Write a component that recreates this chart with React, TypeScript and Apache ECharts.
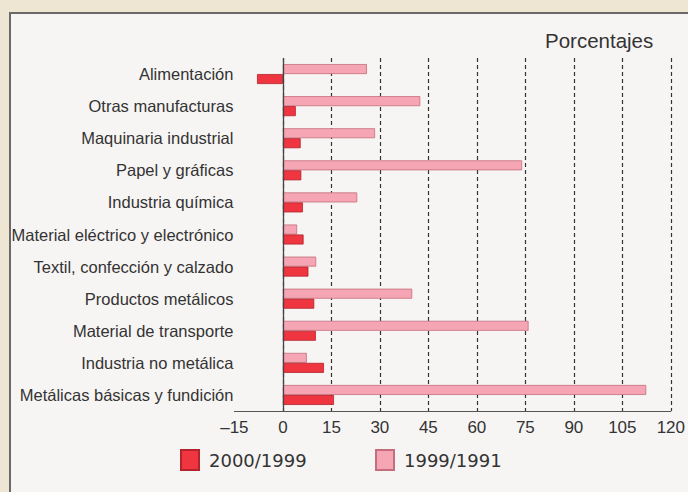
import React, { useEffect, useRef } from "react";
import * as echarts from "echarts";

const categories = [
  "Alimentación",
  "Otras manufacturas",
  "Maquinaria industrial",
  "Papel y gráficas",
  "Industria química",
  "Material eléctrico y electrónico",
  "Textil, confección y calzado",
  "Productos metálicos",
  "Material de transporte",
  "Industria no metálica",
  "Metálicas básicas y fundición",
];

const values1999_1991 = [26, 42.5, 28.5, 74, 23, 4.4, 10.3, 40, 76, 7.4, 112.4];
const values2000_1999 = [-8, 4, 5.5, 5.7, 6.2, 6.4, 7.9, 9.7, 10.2, 12.7, 15.8];

const seriesNames = ["2000/1999", "1999/1991"];
const titleText = "Porcentajes";

export default function App() {
  const ref = useRef<HTMLDivElement>(null);
  useEffect(() => {
    if (!ref.current) return;
    const chart = echarts.init(ref.current, null, { renderer: "svg" });
    const font = "'Liberation Sans', Arial, Helvetica, sans-serif";
    chart.setOption({
      animation: false,
      backgroundColor: "#eee5d2",
      textStyle: { fontFamily: font },
      graphic: [
        {
          type: "rect",
          z: -10,
          silent: true,
          shape: { x: 10, y: 13, width: 700, height: 500 },
          style: { fill: "#f7f5f4", stroke: "#6a6a6a", lineWidth: 2 },
        },
      ],
      title: {
        text: titleText,
        left: 545,
        top: 30,
        padding: 0,
        textStyle: { fontSize: 20.5, fontWeight: "normal", color: "#333", fontFamily: font },
      },
      legend: [
        {
          data: [seriesNames[0]],
          left: 180,
          top: 449,
          padding: 0,
          icon: "rect",
          itemWidth: 18,
          itemHeight: 20,
          itemGap: 10,
          textStyle: { fontSize: 18, color: "#333", fontFamily: "'DejaVu Sans', sans-serif", padding: [0, 0, 0, 5] },
        },
        {
          data: [seriesNames[1]],
          left: 375,
          top: 449,
          padding: 0,
          icon: "rect",
          itemWidth: 18,
          itemHeight: 20,
          textStyle: { fontSize: 18, color: "#333", fontFamily: "'DejaVu Sans', sans-serif", padding: [0, 0, 0, 5] },
        },
      ],
      grid: { left: 234.4, right: 16, top: 58, bottom: 81, containLabel: false },
      xAxis: {
        type: "value",
        min: -15,
        max: 120,
        interval: 15,
        axisLine: { show: true, lineStyle: { color: "#555", width: 1 } },
        axisTick: { show: false },
        axisLabel: {
          fontSize: 17,
          color: "#333",
          margin: 8,
          formatter: (v: number) => (v < 0 ? "–" + Math.abs(v) : String(v)),
        },
        splitLine: {
          show: true,
          showMinLine: false,
          lineStyle: { color: "#333", width: 1.2, type: [4, 3] },
        },
      },
      yAxis: {
        type: "category",
        inverse: true,
        data: categories,
        axisLine: { show: false },
        axisTick: { show: false },
        axisLabel: { fontSize: 16.5, color: "#333", margin: 1 },
      },
      series: [
        {
          name: seriesNames[1],
          type: "bar",
          data: values1999_1991,
          barWidth: 10,
          barGap: "0%",
          itemStyle: { color: "#f5a5b3", borderColor: "#c46d7c", borderWidth: 0.8 },
          markLine: {
            silent: true,
            symbol: ["none", "none"],
            label: { show: false },
            lineStyle: { color: "#444", type: "solid", width: 1.3 },
            data: [{ xAxis: 0 }],
          },
        },
        {
          name: seriesNames[0],
          type: "bar",
          data: values2000_1999,
          barWidth: 10,
          barGap: "0%",
          itemStyle: { color: "#ef3540", borderColor: "#b3232c", borderWidth: 0.8 },
        },
      ],
    });
    return () => chart.dispose();
  }, []);
  return (
    <div
      ref={ref}
      style={{ position: "fixed", left: 0, top: 0, width: 688, height: 492 }}
    />
  );
}
